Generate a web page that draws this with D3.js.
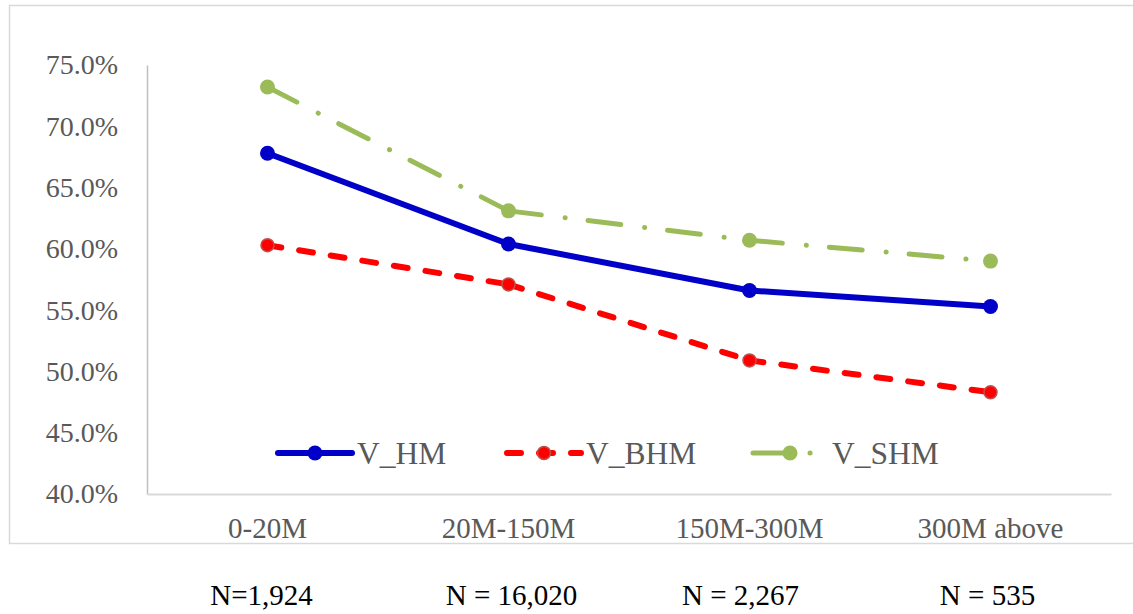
<!DOCTYPE html>
<html>
<head>
<meta charset="utf-8">
<script src="https://cdn.jsdelivr.net/npm/d3@7"></script>
<style>
  html, body { margin: 0; padding: 0; background: #fff; }
  svg { display: block; }
  svg text { font-family: "Liberation Serif", "Times New Roman", Times, "DejaVu Serif", serif !important; }
</style>
</head>
<body>
<svg id="chart" width="1133" height="614"></svg>
<script>
// Revenue bands and their sample sizes
const categories = ["0-20M", "20M-150M", "150M-300M", "300M above"];
const sampleSizes = ["N=1,924", "N = 16,020", "N = 2,267", "N = 535"];

// Share per band for each measure
const vHM  = [0.678, 0.604, 0.566, 0.553];
const vBHM = [0.603, 0.571, 0.509, 0.483];
const vSHM = [0.732, 0.631, 0.607, 0.590];

const yTicks = [0.40, 0.45, 0.50, 0.55, 0.60, 0.65, 0.70, 0.75];

const seriesList = [
  { name: "V_HM",  values: vHM,  color: "#0000C8", width: 6,   dash: null,             r: 7.5, outline: null },
  { name: "V_BHM", values: vBHM, color: "#FF0000", width: 6,   dash: "14,18",          r: 6.5, outline: "#C0504D" },
  { name: "V_SHM", values: vSHM, color: "#9BBB59", width: 5,   dash: "33,24,0.1,23",   r: 7.5, outline: null }
];

const FONT = "'Liberation Serif', 'Times New Roman', Times, 'DejaVu Serif', serif";

const svg = d3.select("#chart");
const plot = { left: 147, right: 1111, top: 65, bottom: 494 };

// Chart frame
svg.append("rect")
  .attr("x", 9.5).attr("y", 5.5)
  .attr("width", 1130).attr("height", 538)
  .attr("fill", "none").attr("stroke", "#D9D9D9").attr("stroke-width", 1.5);

const x = d3.scaleBand().domain(categories).range([plot.left, plot.right]);
const y = d3.scaleLinear().domain([0.40, 0.75]).range([plot.bottom, plot.top]);

// Y axis
const yAxis = svg.append("g")
  .attr("transform", `translate(${plot.left},0)`)
  .call(d3.axisLeft(y).tickValues(yTicks).tickFormat(d3.format(".1%")).tickSize(0).tickPadding(29))
  .attr("font-family", FONT);
yAxis.select(".domain").attr("stroke", "#BFBFBF").attr("stroke-width", 1.5);
yAxis.selectAll("text")
  .attr("fill", "#595959").attr("font-size", 28);

// X axis
const xAxis = svg.append("g")
  .attr("transform", `translate(0,${plot.bottom})`)
  .call(d3.axisBottom(x).tickSize(0).tickPadding(23))
  .attr("font-family", FONT);
xAxis.select(".domain").attr("stroke", "#D9D9D9").attr("stroke-width", 2);
xAxis.selectAll("text")
  .attr("fill", "#595959").attr("font-size", 29);

// Sample size row under the frame (typed in a separate row, slightly off-centre)
const nShift = [-6, 3, -9, -3];
svg.append("g").selectAll("text")
  .data(categories)
  .join("text")
  .attr("x", (d, i) => x(d) + x.bandwidth() / 2 + nShift[i])
  .attr("y", 605)
  .attr("text-anchor", "middle")
  .attr("font-size", 29)
  .attr("fill", "#000")
  .text((d, i) => sampleSizes[i]);

const cx = (d, i) => x(categories[i]) + x.bandwidth() / 2;
const line = d3.line().x(d => d[0]).y(d => d[1]);

// Lines: each segment restarts its dash pattern
seriesList.forEach(s => {
  const pts = s.values.map((v, i) => [cx(v, i), y(v)]);
  const segs = d3.pairs(pts);
  const g = svg.append("g");
  g.selectAll("path")
    .data(segs)
    .join("path")
    .attr("d", d => line(d))
    .attr("fill", "none")
    .attr("stroke", s.color)
    .attr("stroke-width", s.width)
    .attr("stroke-linecap", "round")
    .attr("stroke-linejoin", "round")
    .attr("stroke-dasharray", s.dash);
});

// Markers
seriesList.forEach(s => {
  svg.append("g").selectAll("circle")
    .data(s.values)
    .join("circle")
    .attr("cx", (d, i) => cx(d, i))
    .attr("cy", d => y(d))
    .attr("r", s.r)
    .attr("fill", s.color)
    .attr("stroke", s.outline || "none")
    .attr("stroke-width", s.outline ? 1.5 : 0);
});

// Legend
const legendY = 453;
const legendStarts = [278, 507, 753];
const legend = svg.append("g");
seriesList.forEach((s, i) => {
  const x0 = legendStarts[i];
  const g = legend.append("g").attr("transform", `translate(${x0},${legendY})`);
  g.append("path")
    .attr("d", line([[0, 0], [74, 0]]))
    .attr("stroke", s.color)
    .attr("stroke-width", s.width)
    .attr("stroke-linecap", "round")
    .attr("stroke-dasharray", s.dash)
    .attr("fill", "none");
  g.append("circle")
    .attr("cx", 37).attr("cy", 0).attr("r", s.r)
    .attr("fill", s.color)
    .attr("stroke", s.outline || "none")
    .attr("stroke-width", s.outline ? 1.5 : 0);
  g.append("text")
    .attr("x", 79).attr("y", 0)
    .attr("dy", "0.34em")
    .attr("font-size", 31.5)
    .attr("fill", "#595959")
    .text(s.name);
});
</script>
</body>
</html>
